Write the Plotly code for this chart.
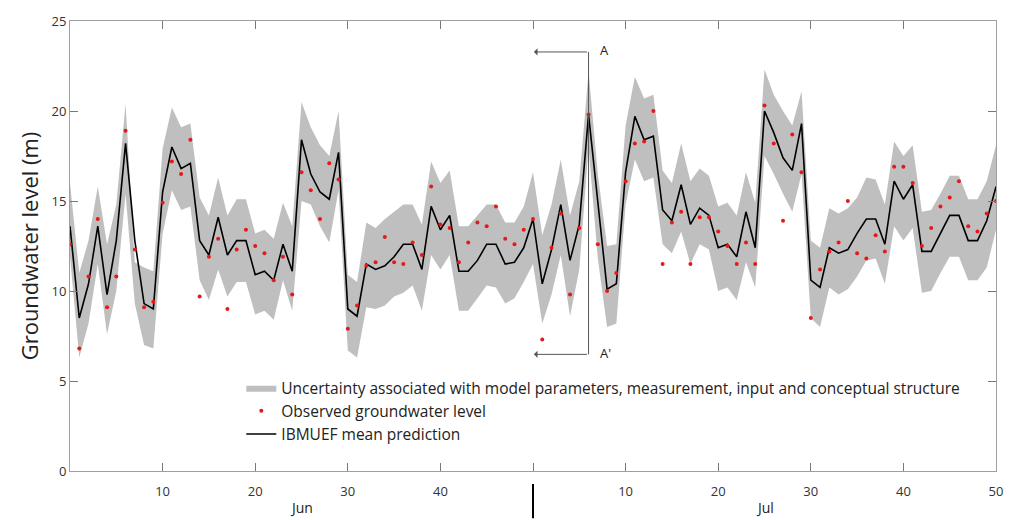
import plotly.graph_objects as go

# ---------------- data ----------------
days = list(range(101))  # 0..50 = Jun, 50..100 = Jul

mean_pred = [13.6, 8.5, 10.4, 13.6, 9.8, 12.8, 18.2, 12.8, 9.3, 9.0,
             15.5, 18.0, 16.8, 17.1, 12.8, 12.0, 14.1, 12.0, 12.8, 12.8,
             10.9, 11.1, 10.6, 12.6, 11.1, 18.4, 16.5, 15.5, 15.1, 17.7,
             9.0, 8.6, 11.5, 11.2, 11.4, 11.9, 12.6, 12.6, 11.2, 14.7,
             13.4, 14.2, 11.1, 11.1, 11.7, 12.6, 12.6, 11.5, 11.6, 12.4,
             14.0, 10.4, 12.3, 14.8, 11.7, 13.7, 19.8, 14.8, 10.1, 10.4,
             16.6, 19.7, 18.4, 18.6, 14.5, 13.9, 15.9, 13.7, 14.6, 14.2,
             12.4, 12.6, 11.9, 14.4, 12.4, 20.0, 18.8, 17.4, 16.7, 19.3,
             10.6, 10.2, 12.4, 12.1, 12.3, 13.2, 14.0, 14.0, 12.6, 16.1,
             15.1, 15.9, 12.2, 12.2, 13.2, 14.2, 14.2, 12.8, 12.8, 13.9,
             15.8]

observed = [12.6, 6.8, 10.8, 14.0, 9.1, 10.8, 18.9, 12.3, 9.1, 9.4,
            14.9, 17.2, 16.5, 18.4, 9.7, 11.9, 12.9, 9.0, 12.3, 13.4,
            12.5, 12.1, 10.6, 11.9, 9.8, 16.6, 15.6, 14.0, 17.1, 16.2,
            7.9, 9.2, 11.4, 11.6, 13.0, 11.6, 11.5, 12.7, 12.0, 15.8,
            13.7, 13.5, 11.6, 12.7, 13.8, 13.6, 14.7, 12.9, 12.6, 13.4,
            14.0, 7.3, 12.4, 14.3, 9.8, 13.5, 19.8, 12.6, 10.0, 11.0,
            16.1, 18.2, 18.3, 20.0, 11.5, 13.8, 14.4, 11.5, 14.1, 14.1,
            13.3, 12.5, 11.5, 12.7, 11.5, 20.3, 18.2, 13.9, 18.7, 16.6,
            8.5, 11.2, 12.2, 12.7, 15.0, 12.1, 11.8, 13.1, 12.2, 16.9,
            16.9, 16.0, 12.5, 13.5, 14.7, 15.2, 16.1, 13.6, 13.3, 14.3,
            15.0]

upper = [16.0, 11.0, 12.8, 15.8, 12.6, 14.8, 20.4, 11.6, 11.3, 11.1,
         17.9, 20.2, 19.1, 19.3, 15.2, 14.2, 16.3, 14.2, 15.1, 15.1,
         13.2, 13.4, 12.9, 14.9, 13.6, 20.5, 19.1, 18.1, 17.5, 20.0,
         10.9, 10.5, 13.8, 13.5, 14.0, 14.4, 14.8, 14.8, 13.7, 17.2,
         16.0, 16.7, 13.6, 13.6, 14.2, 14.8, 14.8, 13.8, 13.8, 14.7,
         16.6, 13.1, 14.8, 17.3, 14.2, 16.1, 22.2, 16.5, 12.5, 12.6,
         19.2, 21.9, 20.7, 20.9, 16.7, 16.0, 18.2, 16.1, 16.8, 16.4,
         14.7, 14.9, 14.2, 16.6, 14.9, 22.3, 20.9, 20.0, 19.2, 21.1,
         12.8, 12.4, 14.6, 14.3, 14.6, 15.2, 16.3, 16.2, 14.8, 18.3,
         17.5, 18.1, 14.4, 14.5, 15.4, 16.4, 16.4, 15.1, 15.1, 16.1,
         18.1]

lower = [11.9, 6.3, 8.2, 11.5, 7.6, 10.0, 15.4, 9.3, 7.0, 6.8,
         13.2, 15.6, 14.5, 14.7, 10.6, 9.5, 11.2, 9.7, 10.5, 10.5,
         8.7, 8.9, 8.4, 10.6, 8.9, 15.0, 14.8, 13.6, 12.7, 15.6,
         6.7, 6.3, 9.1, 9.0, 9.2, 9.7, 9.9, 10.3, 8.9, 12.0,
         11.2, 12.0, 8.9, 8.9, 9.6, 10.3, 10.2, 9.3, 9.6, 10.5,
         11.5, 8.2, 9.8, 12.0, 8.6, 11.2, 18.0, 11.8, 8.0, 8.2,
         14.8, 17.3, 16.1, 16.3, 12.6, 12.1, 13.3, 11.5, 12.6, 12.3,
         10.0, 10.2, 9.5, 11.6, 10.2, 17.5, 16.5, 15.4, 14.4, 16.5,
         8.5, 8.0, 10.2, 9.8, 10.1, 10.8, 11.7, 11.8, 10.4, 13.6,
         12.8, 13.5, 9.9, 10.0, 11.0, 11.9, 11.9, 10.6, 10.6, 11.3,
         13.4]

tick_vals = [10, 20, 30, 40, 50, 60, 70, 80, 90, 100]
tick_text = ["10", "20", "30", "40", "", "10", "20", "30", "40", "50"]
month_labels = ["Jun", "Jul"]
month_centers = [25, 75]
month_split = 50

band_name = ("Uncertainty associated with model parameters, measurement, "
             "input and conceptual structure")
obs_name = "Observed groundwater level"
mean_name = "IBMUEF mean prediction"

# ---------------- figure ----------------
FONT = "Open Sans, DejaVu Sans, sans-serif"
fig = go.Figure()

fig.add_trace(go.Scatter(x=days, y=upper, mode="lines",
                         line=dict(width=0, color="rgb(191,191,191)"),
                         showlegend=False, hoverinfo="skip"))
fig.add_trace(go.Scatter(x=days, y=lower, mode="lines", fill="tonexty",
                         fillcolor="rgb(191,191,191)",
                         line=dict(width=0, color="rgb(191,191,191)"),
                         name=band_name, legendrank=1))
fig.add_trace(go.Scatter(x=days, y=mean_pred, mode="lines",
                         line=dict(color="black", width=1.6),
                         name=mean_name, legendrank=3))
fig.add_trace(go.Scatter(x=days, y=observed, mode="markers",
                         marker=dict(color="rgb(228,25,25)", size=4),
                         name=obs_name, legendrank=2))

axis_line = "rgb(160,160,160)"
fig.update_xaxes(range=[0, 100], tickvals=tick_vals, ticktext=tick_text,
                 showgrid=False, zeroline=False, showline=True,
                 linecolor=axis_line, linewidth=1, mirror="ticks",
                 ticks="inside", ticklen=8, tickcolor="rgb(120,120,120)",
                 ticklabelstandoff=8,
                 tickfont=dict(size=13, color="#333", family=FONT))
fig.update_yaxes(range=[0, 25], tickvals=[0, 5, 10, 15, 20, 25],
                 showgrid=False, zeroline=False, showline=True,
                 linecolor=axis_line, linewidth=1, mirror="ticks",
                 ticks="inside", ticklen=8, tickcolor="rgb(120,120,120)",
                 tickfont=dict(size=13, color="#333", family=FONT),
                 title=dict(text="Groundwater level (m)",
                            font=dict(size=22, color="#222", family=FONT),
                            standoff=6))

# month separator and labels
fig.add_shape(type="line", xref="x", yref="paper",
              x0=month_split, x1=month_split, y0=-0.029, y1=-0.105,
              line=dict(color="black", width=2))
for lbl, xc in zip(month_labels, month_centers):
    fig.add_annotation(x=xc, y=-0.082, xref="x", yref="paper", text=lbl,
                       showarrow=False, yanchor="middle",
                       font=dict(size=14, color="#222", family=FONT))

# A / A' section marker
sec_x, head_x = 56, 50.1
y_top, y_bot = 23.28, 6.48
fig.add_shape(type="line", xref="x", yref="y", x0=sec_x, x1=sec_x,
              y0=y_bot, y1=y_top, line=dict(color="#555", width=1))
for yy, lbl in [(y_top, "A"), (y_bot, "A'")]:
    fig.add_annotation(x=head_x, y=yy, ax=sec_x, ay=yy, xref="x", yref="y",
                       axref="x", ayref="y", showarrow=True, arrowhead=1,
                       arrowsize=1.2, arrowwidth=1, arrowcolor="#555", text="")
    fig.add_annotation(x=sec_x + 1.0, y=yy + 0.1, xref="x", yref="y", text=lbl,
                       showarrow=False, xanchor="left",
                       font=dict(size=13, color="#222", family=FONT))

fig.update_layout(
    width=1015, height=520,
    margin=dict(l=70, r=12, t=13, b=49),
    paper_bgcolor="white", plot_bgcolor="white",
    showlegend=True,
    legend=dict(x=0.185, y=0.222, xanchor="left", yanchor="top",
                traceorder="normal",
                bgcolor="rgba(0,0,0,0)", borderwidth=0,
                font=dict(size=15.5, color="#222", family=FONT),
                tracegroupgap=0),
)

fig.write_html("out.html")
